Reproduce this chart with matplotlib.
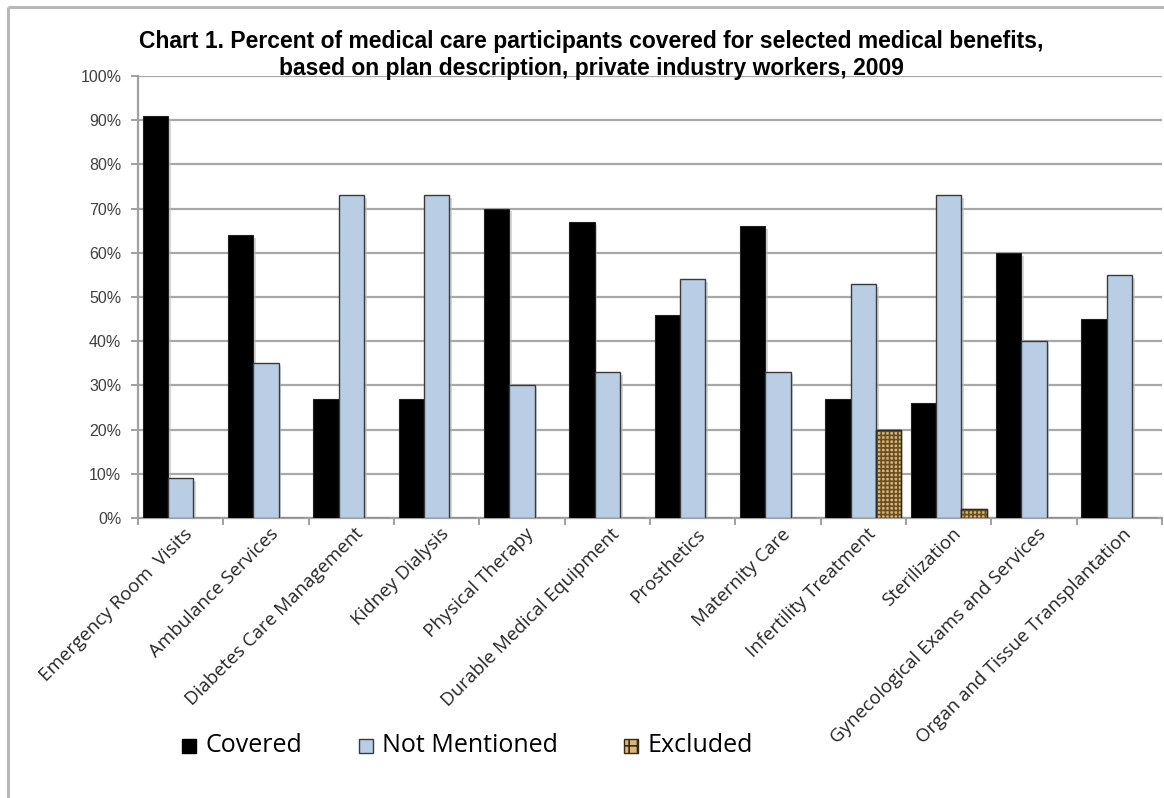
import matplotlib
matplotlib.use("Agg")
import matplotlib.pyplot as plt
import numpy as np
from matplotlib.patches import Rectangle
from matplotlib.lines import Line2D
import matplotlib.patheffects as pe
import matplotlib.transforms as mtransforms

categories = ["Emergency Room  Visits", "Ambulance Services", "Diabetes Care Management",
              "Kidney Dialysis", "Physical Therapy", "Durable Medical Equipment",
              "Prosthetics", "Maternity Care", "Infertility Treatment", "Sterilization",
              "Gynecological Exams and Services", "Organ and Tissue Transplantation"]
covered = [91, 64, 27, 27, 70, 67, 46, 66, 27, 26, 60, 45]
not_mentioned = [9, 35, 73, 73, 30, 33, 54, 33, 53, 73, 40, 55]
excluded = [0, 0, 0, 0, 0, 0, 0, 0, 20, 2, 0, 0]
series_names = ["Covered", "Not Mentioned", "Excluded"]
yticks = [0, 10, 20, 30, 40, 50, 60, 70, 80, 90, 100]
title = ("Chart 1. Percent of medical care participants covered for selected medical benefits,\n"
         "based on plan description, private industry workers, 2009")

W, H = 1164, 798
fig = plt.figure(figsize=(W / 100, H / 100), dpi=100)
fig.patch.set_facecolor("white")

# chart border (left and top visible)
fig.add_artist(Line2D([8 / W, 8 / W], [0, 1 - 7 / H], color="#b8b8b8", lw=2.2,
                      solid_capstyle="butt"))
fig.add_artist(Line2D([8 / W, 1], [1 - 7 / H, 1 - 7 / H], color="#b8b8b8", lw=2.2,
                      solid_capstyle="butt"))

left, right, bottom, top = 138, 1162, 518, 76
ax = fig.add_axes([left / W, 1 - bottom / H, (right - left) / W, (bottom - top) / H])

n = len(categories)
x = np.arange(n)
bw = 0.297
shadow = [pe.SimplePatchShadow(offset=(2, -2), shadow_rgbFace="#bbbbbb", alpha=0.6), pe.Normal()]

c_cov, c_nm, c_ex = "black", "#b9cde5", "#d7b77a"
ax.bar(x - bw, covered, bw, color=c_cov, edgecolor="#202020", linewidth=0.8,
       zorder=3, path_effects=shadow)
ax.bar(x, not_mentioned, bw, color=c_nm, edgecolor="#3a3a3a", linewidth=1.0,
       zorder=3, path_effects=shadow)
plt.rcParams["hatch.linewidth"] = 1.2
ax.bar(x + bw, excluded, bw, color=c_ex, edgecolor="#6b4f22", hatch="++++",
       linewidth=1.0, zorder=3)
for xi, v in zip(x, excluded):
    if v > 0:
        ax.add_patch(Rectangle((xi + bw / 2, 0), bw, v, fill=False, edgecolor="#2a2a2a",
                               linewidth=1.0, zorder=4))

ax.set_xlim(-0.5, n - 0.5)
ax.set_ylim(0, 100)
ax.set_yticks(yticks)
ax.set_yticklabels([f"{t}%" for t in yticks], fontsize=11.5, color="#404040",
                   family=["Liberation Sans", "DejaVu Sans"])
ax.grid(axis="y", color="#a8a8a8", linewidth=1.6, zorder=0)
ax.set_axisbelow(True)

# x ticks at group boundaries, labels at centres
ax.set_xticks(np.arange(n + 1) - 0.5)
ax.set_xticklabels([])
ax.tick_params(axis="x", which="major", length=5, color="#909090", width=1.2, direction="out")
ax.set_xticks(x, minor=True)
ax.set_xticklabels(categories, minor=True, rotation=45, ha="right", rotation_mode="anchor",
                   fontsize=13.5, color="#262626", family=["Open Sans", "DejaVu Sans"])
ax.tick_params(axis="x", which="minor", length=0, pad=5)
offset = mtransforms.ScaledTranslation(3 / 100, 0, fig.dpi_scale_trans)
for lab in ax.get_xticklabels(minor=True):
    lab.set_transform(lab.get_transform() + offset)
ax.tick_params(axis="y", length=5, color="#909090", width=1.2, pad=7)

for s in ["top", "right"]:
    ax.spines[s].set_visible(False)
for s in ["left", "bottom"]:
    ax.spines[s].set_color("#a0a0a0")
    ax.spines[s].set_linewidth(1.6)

fig.text(591 / W, 1 - 55 / H, title, ha="center", va="center", fontsize=16.5,
         fontweight="bold", linespacing=1.25, color="black",
         family=["Liberation Sans", "DejaVu Sans"])

# legend drawn manually at reference positions
leg_y = 746
sq = 14
entries = [(182, c_cov, "black", None), (359, c_nm, "#3a3a3a", None), (624, c_ex, "#3a2a10", "++")]
for (lx, fc, ec, hatch), name in zip(entries, series_names):
    fig.add_artist(Rectangle((lx / W, 1 - (leg_y + sq / 2) / H), sq / W, sq / H,
                             facecolor=fc, edgecolor=ec, hatch=hatch, linewidth=1.0,
                             transform=fig.transFigure))
    fig.text((lx + sq + 9) / W, 1 - leg_y / H, name, ha="left", va="center",
             fontsize=18, color="black", family=["Open Sans", "DejaVu Sans"])

fig.savefig("out.png", dpi=100, facecolor="white")
